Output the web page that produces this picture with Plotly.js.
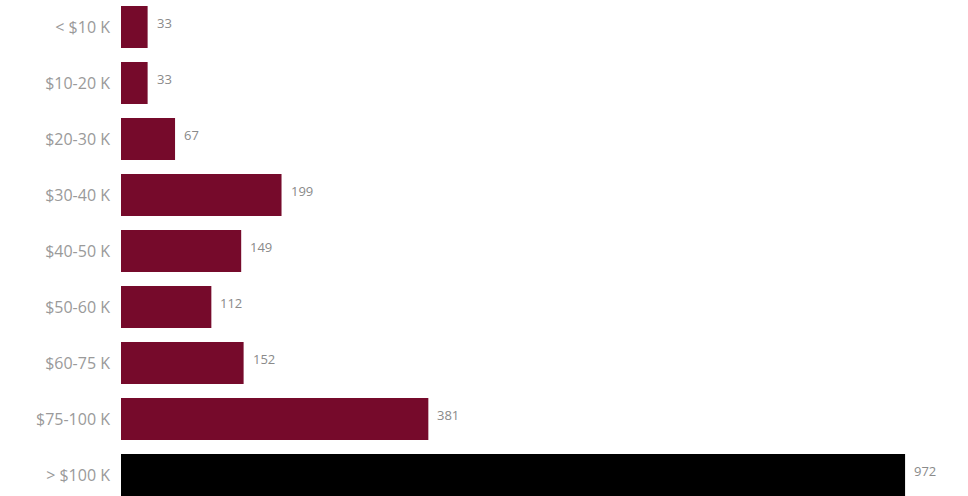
<!DOCTYPE html>
<html>
<head>
<meta charset="utf-8">
<script src="https://cdn.plot.ly/plotly-3.0.1.min.js"></script>
<style>html,body{margin:0;padding:0;background:#fff;}#chart{width:968px;height:496px;}</style>
</head>
<body>
<div id="chart"></div>
<script>
const categories = ["< $10 K", "$10-20 K", "$20-30 K", "$30-40 K", "$40-50 K", "$50-60 K", "$60-75 K", "$75-100 K", "> $100 K"];
const counts = [33, 33, 67, 199, 149, 112, 152, 381, 972];
const barColors = ["#760a2b", "#760a2b", "#760a2b", "#760a2b", "#760a2b", "#760a2b", "#760a2b", "#760a2b", "#000000"];

const trace = {
  type: "bar",
  orientation: "h",
  x: counts,
  y: categories,
  marker: {color: barColors},
  hoverinfo: "x+y"
};

const annotations = counts.map((v, i) => ({
  x: v, y: categories[i], xref: "x", yref: "y",
  text: String(v), showarrow: false,
  xanchor: "left", yanchor: "middle",
  xshift: 7, yshift: 4,
  font: {family: "Open Sans, sans-serif", size: 13, color: "#8a8a8a"}
}));

const layout = {
  width: 968, height: 496,
  margin: {l: 121, r: 0, t: 0, b: 0},
  paper_bgcolor: "#ffffff",
  plot_bgcolor: "#ffffff",
  bargap: 0.25,
  showlegend: false,
  xaxis: {range: [0, 1050], showgrid: false, zeroline: false, showticklabels: false, showline: false, ticks: ""},
  yaxis: {
    type: "category",
    range: [8.375, -0.482],
    showgrid: false, zeroline: false, showline: false, ticks: "",
    ticklabelstandoff: 10,
    tickfont: {family: "Open Sans, sans-serif", size: 16, color: "#9a9a9a"}
  },
  annotations: annotations
};

Plotly.newPlot("chart", [trace], layout, {displayModeBar: false, staticPlot: true});
</script>
</body>
</html>
